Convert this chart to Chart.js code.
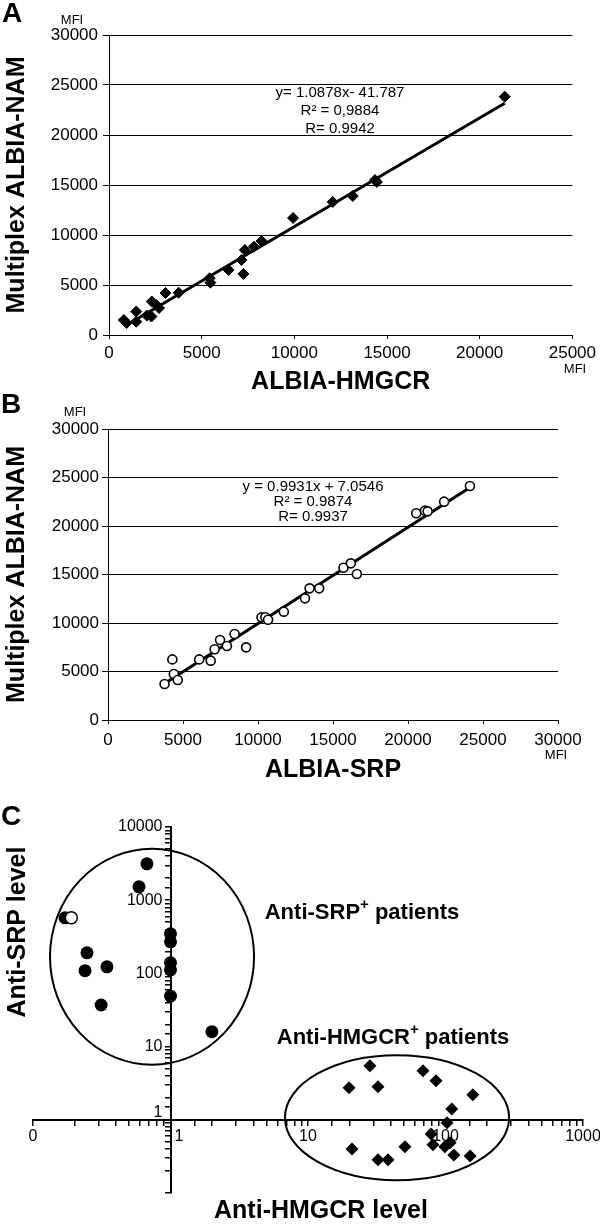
<!DOCTYPE html>
<html>
<head>
<meta charset="utf-8">
<script src="https://cdn.jsdelivr.net/npm/chart.js@4.4.1/dist/chart.umd.min.js"></script>
<style>
  body { margin: 0; background: #fff; }
  #wrap { position: relative; width: 600px; height: 1224px; }
  canvas { position: absolute; left: 0; }
</style>
</head>
<body>
<div id="wrap">
  <canvas id="chartA" width="600" height="400" style="top:0px"></canvas>
  <canvas id="chartB" width="600" height="403" style="top:385px"></canvas>
  <canvas id="chartC" width="600" height="449" style="top:775px"></canvas>
</div>
<script>
// ---- panel A: ALBIA-HMGCR vs multiplex (MFI)
const hmgcrX = [800, 950, 1470, 1470, 2040, 2290, 2310, 2550, 2700, 3050, 3760, 5430, 5470, 6450, 7150, 7250, 7330, 7820, 8230, 9930, 12070, 13150, 14350, 14450, 21350];
const hmgcrY = [1500, 1200, 2350, 1330, 1950, 1850, 3350, 3000, 2700, 4200, 4230, 5670, 5230, 6500, 7500, 6100, 8500, 8830, 9400, 11700, 13300, 13900, 15500, 15300, 23830];
const fitAX = [950, 21350];
const fitAY = [1000, 23180];

// ---- panel B: ALBIA-SRP vs multiplex (MFI)
const srpX = [3770, 4290, 4390, 4650, 6080, 6850, 7110, 7470, 7930, 8440, 9210, 10230, 10490, 10670, 11720, 13130, 13440, 14080, 15700, 16190, 16590, 20550, 21130, 21310, 22410, 24130];
const srpY = [3710, 6250, 4740, 4120, 6250, 6120, 7290, 8250, 7630, 8870, 7490, 10580, 10600, 10340, 11170, 12540, 13570, 13570, 15700, 16150, 15050, 21310, 21580, 21510, 22510, 24120];
const fitBX = [3830, 24130];
const fitBY = [3810, 23970];

// ---- panel C: anti-HMGCR level vs anti-SRP level (log-log)
const srpPosX = [0.674, 0.59, 0.171, 1, 1, 0.247, 0.239, 0.345, 1, 1, 1, 0.313, 2.0];
const srpPosY = [3140, 1525, 575, 348, 270, 191, 109, 123, 140, 112, 49, 37, 16];
const srpOpenX = [0.19];
const srpOpenY = [575];
const hmgcrPosX = [28.2, 68.6, 85.3, 19.9, 32.3, 158, 111, 102.6, 78.5, 108, 81, 99, 20.9, 50.7, 115, 151, 32.3, 38.2];
const hmgcrPosY = [5.47, 4.67, 3.41, 2.74, 2.82, 2.2, 1.41, 0.91, 0.64, 0.485, 0.455, 0.43, 0.40, 0.43, 0.33, 0.32, 0.284, 0.284];
const cXTickVals = [0.1, 1, 10, 100, 1000];
const cXTickText = ['0', '1', '10', '100', '1000'];
const cYTickVals = [1, 10, 100, 1000, 10000];
const cYTickText = ['1', '10', '100', '1000', '10000'];
// group rings: centre in data units, radii in decades
const groupRings = [
  { cx: 0.734, cy: 169, rx: 0.742, ry: 1.475 },
  { cx: 44.4, cy: 1.07, rx: 0.815, ry: 0.854 }
];

const FONT = "'Liberation Sans', Arial, sans-serif";
Chart.defaults.font.family = FONT;
Chart.defaults.color = '#000';
Chart.defaults.animation = false;

function pairs(xs, ys) {
  return xs.map((x, i) => ({ x: x, y: ys[i] }));
}

// free text drawn on top of a chart
const notes = {
  id: 'notes',
  afterDraw(chart, args, opts) {
    const ctx = chart.ctx;
    (opts.items || []).forEach(n => {
      const parts = n.parts || [{ t: n.text, f: n.font }];
      ctx.save();
      ctx.fillStyle = '#000';
      ctx.textBaseline = 'middle';
      ctx.textAlign = 'left';
      ctx.translate(n.x, n.y);
      if (n.rotate) ctx.rotate(n.rotate);
      let total = 0;
      parts.forEach(p => { ctx.font = p.f; total += ctx.measureText(p.t).width; });
      let cur = -total / 2;
      parts.forEach(p => {
        ctx.font = p.f;
        ctx.fillText(p.t, cur, p.dy || 0);
        cur += ctx.measureText(p.t).width;
      });
      ctx.restore();
    });
  }
};

// ellipses round the patient groups, placed through the scales
const rings = {
  id: 'rings',
  afterDatasetsDraw(chart, args, opts) {
    const { ctx, scales: { x, y } } = chart;
    (opts.items || []).forEach(e => {
      const cx = x.getPixelForValue(e.cx);
      const cy = y.getPixelForValue(e.cy);
      const rx = x.getPixelForValue(e.cx * Math.pow(10, e.rx)) - cx;
      const ry = cy - y.getPixelForValue(e.cy * Math.pow(10, e.ry));
      ctx.save();
      ctx.beginPath();
      ctx.ellipse(cx, cy, rx, ry, 0, 0, Math.PI * 2);
      ctx.lineWidth = 2;
      ctx.strokeStyle = '#000';
      ctx.stroke();
      ctx.restore();
    });
  }
};

// tick labels of the crossed axes (chart.js puts the y labels on top of the ticks)
const crossLabels = {
  id: 'crossLabels',
  afterDraw(chart, args, opts) {
    const { ctx, scales: { x, y } } = chart;
    const ax = x.getPixelForValue(opts.crossX);
    const ay = y.getPixelForValue(opts.crossY);
    ctx.save();
    ctx.font = opts.font;
    ctx.fillStyle = '#000';
    ctx.textAlign = 'right';
    opts.yVals.forEach((v, i) => {
      const py = y.getPixelForValue(v);
      const atCross = Math.abs(py - ay) < 1;
      ctx.textBaseline = atCross ? 'bottom' : 'middle';
      ctx.fillText(opts.yText[i], ax - 8, atCross ? py + 1 : py);
    });
    ctx.textBaseline = 'top';
    opts.xVals.forEach((v, i) => {
      const px = x.getPixelForValue(v);
      const atCross = Math.abs(px - ax) < 1;
      ctx.textAlign = atCross ? 'left' : 'center';
      ctx.fillText(opts.xText[i], atCross ? px + 4 : px, ay + 9);
    });
    ctx.restore();
  }
};

const small = '13px ' + FONT;
const eqFont = '15px ' + FONT;
const letter = 'bold 28px ' + FONT;
const big = 'bold 25px ' + FONT;
const mid = 'bold 22px ' + FONT;
const sup = 'bold 15px ' + FONT;

function mfiChart(id, cfg) {
  return new Chart(document.getElementById(id), {
    type: 'scatter',
    data: {
      datasets: [
        {
          data: cfg.fit,
          showLine: true,
          borderColor: '#000',
          borderWidth: 3,
          pointRadius: 0,
          order: 2
        },
        {
          data: cfg.points,
          pointStyle: cfg.style,
          pointRadius: cfg.radius,
          backgroundColor: cfg.fill,
          borderColor: '#000',
          borderWidth: cfg.border,
          order: 1
        }
      ]
    },
    options: {
      responsive: false,
      events: [],
      layout: { padding: cfg.pad },
      plugins: {
        legend: { display: false },
        tooltip: { enabled: false },
        notes: { items: cfg.notes }
      },
      scales: {
        x: {
          type: 'linear',
          min: 0,
          max: cfg.xMax,
          afterFit: s => { s.height = cfg.xh; },
          ticks: { stepSize: 5000, callback: v => String(v), font: { size: 17 }, padding: cfg.xpad, maxRotation: 0 },
          grid: { drawOnChartArea: false, color: '#000', tickLength: 4 },
          border: { color: '#000', width: 1 },
          title: { display: true, text: cfg.xTitle, font: { size: 25, weight: 'bold' }, padding: { top: 0, bottom: 3 } }
        },
        y: {
          type: 'linear',
          min: 0,
          max: 30000,
          afterFit: s => { s.width = cfg.yw; },
          ticks: { stepSize: 5000, callback: v => String(v), font: { size: 17 }, padding: cfg.ypad },
          grid: { color: '#000', tickLength: 6 },
          border: { color: '#000', width: 1 },
          title: { display: true, text: 'Multiplex ALBIA-NAM', font: { size: 25, weight: 'bold' }, padding: { top: 2, bottom: 0 } }
        }
      }
    },
    plugins: [notes]
  });
}

mfiChart('chartA', {
  points: pairs(hmgcrX, hmgcrY),
  fit: pairs(fitAX, fitAY),
  style: 'rectRot', radius: 5.5, fill: '#000', border: 1,
  xMax: 25000, xTitle: 'ALBIA-HMGCR',
  pad: { top: 35, right: 25, left: 0, bottom: 0 },
  xh: 65, yw: 109, xpad: 4, ypad: 5,
  notes: [
    { text: 'A', font: letter, x: 12, y: 14 },
    { text: 'MFI', font: small, x: 72, y: 20 },
    { text: 'MFI', font: small, x: 575, y: 369 },
    { text: 'y= 1.0878x- 41.787', font: eqFont, x: 340, y: 93 },
    { text: 'R² = 0,9884', font: eqFont, x: 340, y: 111 },
    { text: 'R= 0.9942', font: eqFont, x: 340, y: 129 }
  ]
});

mfiChart('chartB', {
  points: pairs(srpX, srpY),
  fit: pairs(fitBX, fitBY),
  style: 'circle', radius: 4.5, fill: '#fff', border: 1.6,
  xMax: 30000, xTitle: 'ALBIA-SRP',
  pad: { top: 44, right: 42, left: 0, bottom: 0 },
  xh: 68, yw: 108, xpad: 6, ypad: 3,
  notes: [
    { text: 'B', font: letter, x: 11, y: 20 },
    { text: 'MFI', font: small, x: 75, y: 27 },
    { text: 'MFI', font: small, x: 556, y: 370 },
    { text: 'y = 0.9931x + 7.0546', font: eqFont, x: 313, y: 102 },
    { text: 'R² = 0.9874', font: eqFont, x: 313, y: 117 },
    { text: 'R= 0.9937', font: eqFont, x: 313, y: 132 }
  ]
});

new Chart(document.getElementById('chartC'), {
  type: 'scatter',
  data: {
    datasets: [
      {
        data: pairs(srpOpenX, srpOpenY),
        pointStyle: 'circle', pointRadius: 6, backgroundColor: '#fff', borderColor: '#000', borderWidth: 1.5,
        order: 1
      },
      {
        data: pairs(srpPosX, srpPosY),
        pointStyle: 'circle', pointRadius: 6.5, backgroundColor: '#000', borderColor: '#000', borderWidth: 0,
        order: 2
      },
      {
        data: pairs(hmgcrPosX, hmgcrPosY),
        pointStyle: 'rectRot', pointRadius: 6.5, backgroundColor: '#000', borderColor: '#000', borderWidth: 0,
        order: 3
      }
    ]
  },
  options: {
    responsive: false,
    events: [],
    layout: { padding: { top: 52, right: 17, left: 33, bottom: 31 } },
    plugins: {
      legend: { display: false },
      tooltip: { enabled: false },
      rings: { items: groupRings },
      crossLabels: {
        crossX: 1, crossY: 1, font: '16px ' + FONT,
        xVals: cXTickVals, xText: cXTickText, yVals: cYTickVals, yText: cYTickText
      },
      notes: {
        items: [
          { text: 'C', font: letter, x: 11, y: 42 },
          { text: 'Anti-SRP level', font: big, x: 18, y: 157, rotate: -Math.PI / 2 },
          { text: 'Anti-HMGCR level', font: big, x: 321, y: 436 },
          { parts: [{ t: 'Anti-SRP', f: mid }, { t: '+', f: sup, dy: -8 }, { t: ' patients', f: mid }], x: 362, y: 138 },
          { parts: [{ t: 'Anti-HMGCR', f: mid }, { t: '+', f: sup, dy: -8 }, { t: ' patients', f: mid }], x: 393, y: 263 }
        ]
      }
    },
    scales: {
      x: {
        type: 'logarithmic',
        min: 0.1,
        max: 1000,
        position: { y: 1 },
        ticks: { autoSkip: false, maxRotation: 0, font: { size: 16 }, callback: () => '' },
        grid: { drawOnChartArea: false, color: '#000', tickLength: 5, lineWidth: 1.5 },
        border: { color: '#000', width: 2 }
      },
      y: {
        type: 'logarithmic',
        min: 0.1,
        max: 10000,
        position: { x: 1 },
        ticks: { autoSkip: false, font: { size: 16 }, callback: () => '' },
        grid: { drawOnChartArea: false, color: '#000', tickLength: 5, lineWidth: 1.5 },
        border: { color: '#000', width: 2 }
      }
    }
  },
  plugins: [rings, crossLabels, notes]
});
</script>
</body>
</html>
